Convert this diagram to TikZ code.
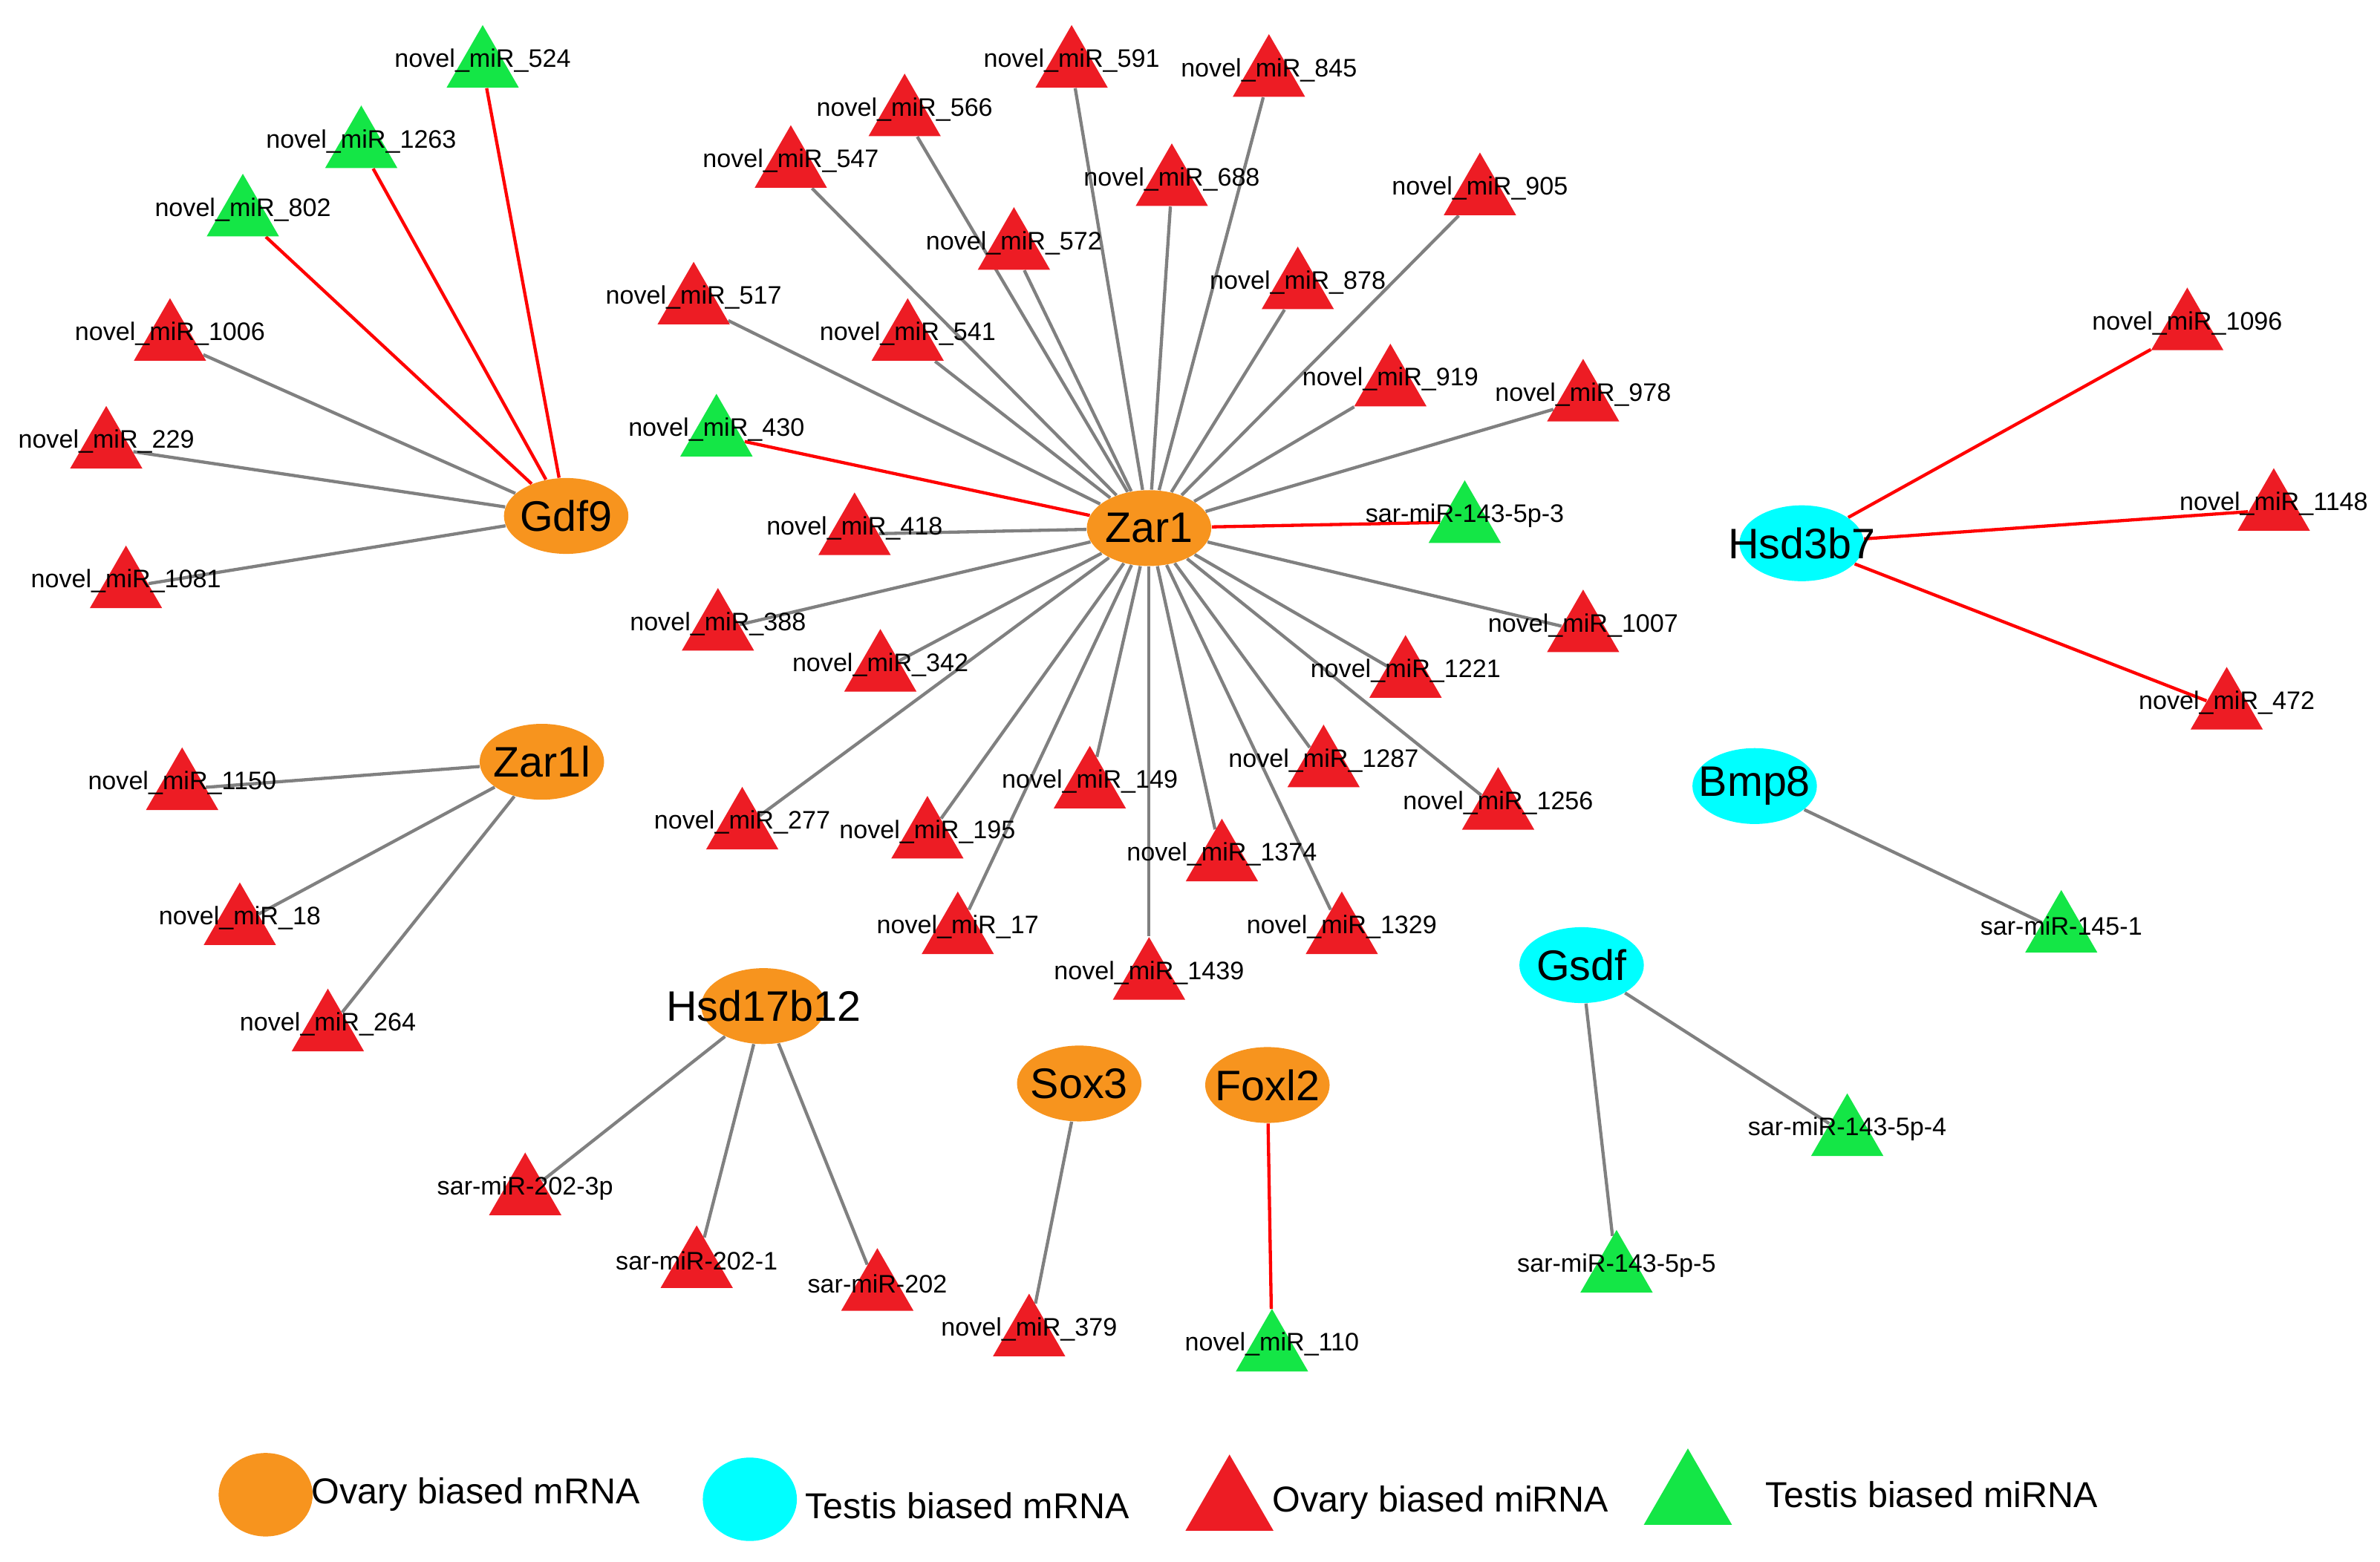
\documentclass[tikz,border=0pt]{standalone}
\usepackage{fontspec}
\setmainfont{Liberation Sans}
\usetikzlibrary{shapes.geometric, backgrounds}
\definecolor{ovm}{RGB}{247,148,30}
\definecolor{tem}{RGB}{0,255,255}
\definecolor{ovr}{RGB}{237,28,36}
\definecolor{ter}{RGB}{20,230,70}
\tikzstyle{gene} = [ellipse, fill=ovm, minimum width=1.64cm, minimum height=1cm, inner sep=0pt]
\tikzstyle{tgene} = [gene, fill=tem]
\tikzstyle{mir} = [regular polygon, regular polygon sides=3, minimum size=1.1cm, inner sep=0pt, fill=ovr]
\tikzstyle{tmir} = [mir, fill=ter]
\tikzstyle{lbl} = [font=\fontsize{9.5}{10}\selectfont, inner sep=0pt]
\tikzstyle{glbl} = [font=\fontsize{16}{17}\selectfont, inner sep=0pt]
\tikzstyle{edge} = [line width=1.2pt, gray]
\tikzstyle{redge} = [line width=1.2pt, red]

\begin{document}
\begin{tikzpicture}[x=0.02cm, y=-0.02cm]
\useasboundingbox (0,0) rectangle (1568,1029);
% mRNA nodes
\node (gdf9) [gene] at (373,340) {}; \node[glbl] at (gdf9) {Gdf9};
\node (zar1) [gene] at (757,348) {}; \node[glbl] at (zar1) {Zar1};
\node (zar1l) [gene] at (357,502) {}; \node[glbl] at (zar1l) {Zar1l};
\node (hsd17) [gene] at (503,663) {}; \node[glbl] at (hsd17) {Hsd17b12};
\node (sox3) [gene] at (711,714) {}; \node[glbl] at (sox3) {Sox3};
\node (foxl2) [gene] at (835,715) {}; \node[glbl] at (foxl2) {Foxl2};
\node (hsd3) [tgene] at (1187,358) {}; \node[glbl] at (hsd3) {Hsd3b7};
\node (bmp8) [tgene] at (1156,518) {}; \node[glbl] at (bmp8) {Bmp8};
\node (gsdf) [tgene] at (1042,636) {}; \node[glbl] at (gsdf) {Gsdf};
% Gdf9 targets
\foreach \n/\x/\y/\s/\e in {524/318/44/tmir/redge, 1263/238/97/tmir/redge, 802/160/142/tmir/redge,
  1006/112/224/mir/edge, 229/70/295/mir/edge, 1081/83/387/mir/edge}{
  \node (m\n) [\s] at (\x,\y) {}; \node[lbl] at (\x,\y-4) {novel\_miR\_\n};
  \begin{scope}[on background layer] \draw [\e] (gdf9) -- (m\n); \end{scope}
}
% Zar1 targets
\foreach \n/\x/\y in {566/596/76, 547/521/110, 591/706/44, 845/836/50, 688/772/122, 905/975/128,
  572/668/164, 878/855/190, 517/457/200, 541/598/224, 919/916/254, 978/1043/264, 418/563/352,
  388/473/415, 342/580/442, 1007/1043/416, 1221/926/446, 277/489/546, 195/611/552, 149/718/519,
  1287/872/505, 1256/987/533, 1374/805/567, 17/631/615, 1439/757/645, 1329/884/615}{
  \node (m\n) [mir] at (\x,\y) {}; \node[lbl] at (\x,\y-4) {novel\_miR\_\n};
  \begin{scope}[on background layer] \draw [edge] (zar1) -- (m\n); \end{scope}
}
\node (m430) [tmir] at (472,287) {}; \node[lbl] at (472,283) {novel\_miR\_430};
\node (s3) [tmir] at (965,344) {}; \node[lbl] at (965,340) {sar-miR-143-5p-3};
% Hsd3b7 targets
\foreach \n/\x/\y in {1096/1441/217, 1148/1498/336, 472/1467/467}{
  \node (m\n) [mir] at (\x,\y) {}; \node[lbl] at (\x,\y-4) {novel\_miR\_\n};
  \begin{scope}[on background layer] \draw [redge] (hsd3) -- (m\n); \end{scope}
}
% Zar1l targets
\foreach \n/\x/\y in {1150/120/520, 18/158/609, 264/216/679}{
  \node (m\n) [mir] at (\x,\y) {}; \node[lbl] at (\x,\y-4) {novel\_miR\_\n};
  \begin{scope}[on background layer] \draw [edge] (zar1l) -- (m\n); \end{scope}
}
% remaining miRNAs
\node (s2023p) [mir] at (346,787) {}; \node[lbl] at (346,783) {sar-miR-202-3p};
\node (s2021) [mir] at (459,835) {}; \node[lbl] at (459,831) {sar-miR-202-1};
\node (s202) [mir] at (578,850) {}; \node[lbl] at (578,846) {sar-miR-202};
\node (m379) [mir] at (678,880) {}; \node[lbl] at (678,876) {novel\_miR\_379};
\node (m110) [tmir] at (838,890) {}; \node[lbl] at (838,886) {novel\_miR\_110};
\node (s1451) [tmir] at (1358,614) {}; \node[lbl] at (1358,610) {sar-miR-145-1};
\node (s4) [tmir] at (1217,748) {}; \node[lbl] at (1217,744) {sar-miR-143-5p-4};
\node (s5) [tmir] at (1065,838) {}; \node[lbl] at (1065,834) {sar-miR-143-5p-5};
\begin{scope}[on background layer]
\draw [redge] (zar1) -- (m430);
\draw [redge] (zar1) -- (s3);
\draw [edge] (hsd17) -- (s2023p);
\draw [edge] (hsd17) -- (s2021);
\draw [edge] (hsd17) -- (s202);
\draw [edge] (sox3) -- (m379);
\draw [redge] (foxl2) -- (m110);
\draw [edge] (bmp8) -- (s1451);
\draw [edge] (gsdf) -- (s4);
\draw [edge] (gsdf) -- (s5);
\end{scope}
% legend
\tikzstyle{leg} = [font=\fontsize{13.5}{14}\selectfont, anchor=west, inner sep=0pt]
\node (lg1) [gene, minimum width=1.24cm, minimum height=1.1cm] at (175,985) {};
\node [leg] at (205,985) {Ovary biased mRNA};
\node (lg2) [tgene, minimum width=1.24cm, minimum height=1.1cm] at (494,988) {};
\node [leg] at (530,992) {Testis biased mRNA};
\node (lg3) [mir, minimum size=1.34cm] at (810,992) {};
\node [leg] at (838,990) {Ovary biased miRNA};
\node (lg4) [tmir, minimum size=1.34cm] at (1112,988) {};
\node [leg] at (1163,985) {Testis biased miRNA};
\end{tikzpicture}
\end{document}
